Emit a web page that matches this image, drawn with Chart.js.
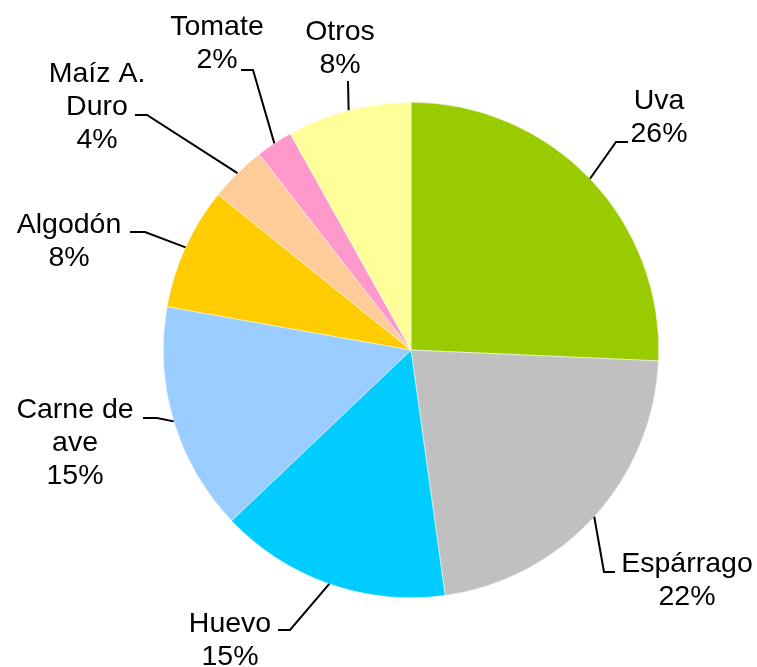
<!DOCTYPE html>
<html>
<head>
<meta charset="utf-8">
<script src="https://cdn.jsdelivr.net/npm/chart.js"></script>
<style>
  body { margin: 0; background: #ffffff; }
  #wrap { width: 757px; height: 667px; }
</style>
</head>
<body>
<div id="wrap"><canvas id="pieChart" width="757" height="667"></canvas></div>
<script>
// Chart data
const categories = ['Uva', 'Espárrago', 'Huevo', 'Carne de ave', 'Algodón', 'Maíz A. Duro', 'Tomate', 'Otros'];
const labelLines = [['Uva'], ['Espárrago'], ['Huevo'], ['Carne de', 'ave'], ['Algodón'], ['Maíz A.', 'Duro'], ['Tomate'], ['Otros']];
const shares = [25.7, 22.1, 15.1, 14.9, 8.0, 3.7, 2.4, 8.1];
const sliceColors = ['#99CC00', '#C0C0C0', '#00CCFF', '#99CCFF', '#FFCC00', '#FFCC99', '#FF99CC', '#FFFF99'];

// Where each outside label sits, relative to the pie centre
// elbow = bend of leader line, tail = horizontal run, tx/ty = text centre / first baseline
const labelSpots = [
  { ex: 205, ey: -208, tail: 12, tx: 248, ty: -241 },
  { ex: 193, ey: 222, tail: 11, tx: 276, ty: 222 },
  { ex: -121, ey: 280, tail: -12, tx: -181, ty: 282 },
  { ex: -254, ey: 68, tail: -14, tx: -336, ty: 68 },
  { ex: -266, ey: -118, tail: -15, tx: -342, ty: -117 },
  { ex: -264, ey: -235, tail: -12, tx: -314, ty: -268 },
  { ex: -158, ey: -280, tail: -12, tx: -194, ty: -315 },
  { ex: -63, ey: -269, tail: 0, tx: -71, ty: -310 }
];

// Draws leader lines and labels outside the pie
const outsideLabels = {
  id: 'outsideLabels',
  afterDatasetsDraw(chart) {
    const ctx = chart.ctx;
    const meta = chart.getDatasetMeta(0);
    ctx.save();
    ctx.strokeStyle = '#000000';
    ctx.lineWidth = 2;
    ctx.fillStyle = '#000000';
    ctx.font = '28.5px "Liberation Sans", Arial, sans-serif';
    ctx.textAlign = 'center';
    ctx.textBaseline = 'alphabetic';
    meta.data.forEach((arc, i) => {
      const cx = arc.x, cy = arc.y;
      const mid = (arc.startAngle + arc.endAngle) / 2;
      const r = arc.outerRadius;
      const spot = labelSpots[i];
      const sx = cx + Math.cos(mid) * r;
      const sy = cy + Math.sin(mid) * r;
      const ex = cx + spot.ex, ey = cy + spot.ey;
      ctx.beginPath();
      ctx.moveTo(sx, sy);
      ctx.lineTo(ex, ey);
      if (spot.tail !== 0) ctx.lineTo(ex + spot.tail, ey);
      ctx.stroke();

      const lines = labelLines[i].concat([Math.round(shares[i]) + '%']);
      lines.forEach((t, k) => {
        ctx.fillText(t, cx + spot.tx, cy + spot.ty + k * 33);
      });
    });
    ctx.restore();
  }
};

new Chart(document.getElementById('pieChart'), {
  type: 'pie',
  data: {
    labels: categories,
    datasets: [{
      data: shares,
      backgroundColor: sliceColors,
      borderColor: '#ffffff',
      borderWidth: 0.5
    }]
  },
  options: {
    responsive: false,
    animation: false,
    layout: {
      padding: { top: 102, bottom: 69, left: 163, right: 98 }
    },
    plugins: {
      legend: { display: false },
      tooltip: { enabled: false }
    }
  },
  plugins: [outsideLabels]
});
</script>
</body>
</html>
